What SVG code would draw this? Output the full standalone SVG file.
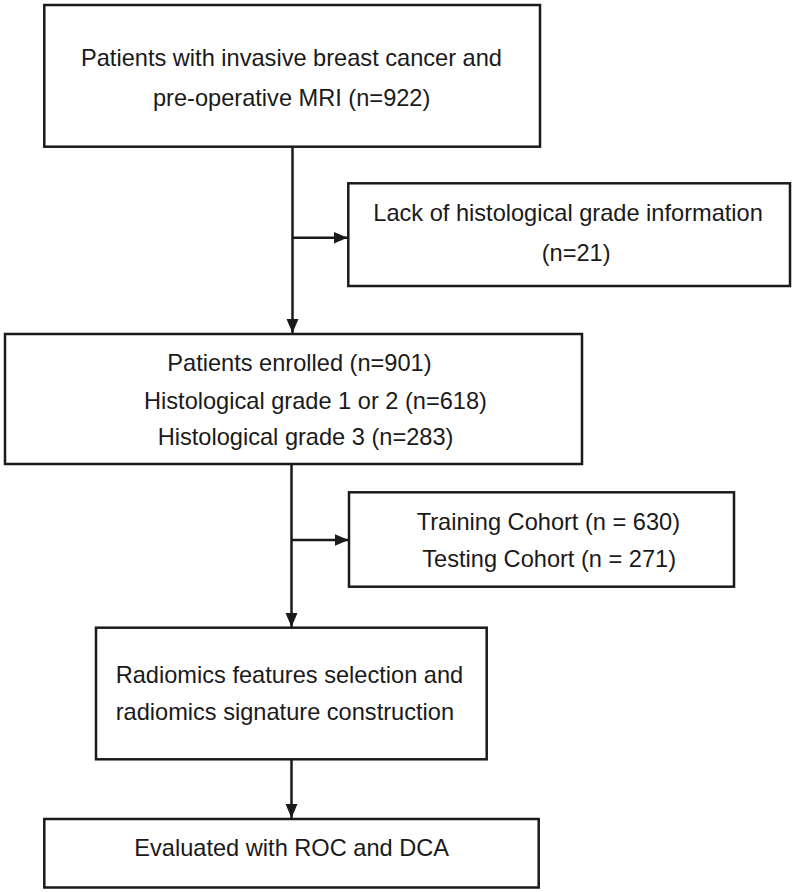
<svg xmlns="http://www.w3.org/2000/svg" width="800" height="892" viewBox="0 0 800 892">
  <defs>
    <style>
      .box { fill: #ffffff; stroke: #1a1a1a; stroke-width: 2.5; }
      .lbl { font-family: "Liberation Sans", Arial, sans-serif; font-size: 23.6px; fill: #1a1a1a; }
      .conn { stroke: #1a1a1a; stroke-width: 2.5; fill: none; marker-end: url(#arrow); }
    </style>
    <marker id="arrow" markerUnits="userSpaceOnUse" markerWidth="15" markerHeight="13" refX="14" refY="6.5" orient="auto">
      <path d="M0,0.5 L14,6.5 L0,12.5 z" fill="#1a1a1a"/>
    </marker>
  </defs>
  <rect width="800" height="892" fill="#ffffff"/>

  <g id="connectors">
    <line class="conn" x1="292.5" y1="147" x2="292.5" y2="333"/>
    <line class="conn" x1="292.5" y1="237.7" x2="347.5" y2="237.7"/>
    <line class="conn" x1="291.5" y1="464" x2="291.5" y2="627"/>
    <line class="conn" x1="291.5" y1="540" x2="348.5" y2="540"/>
    <line class="conn" x1="291.5" y1="759" x2="291.5" y2="818"/>
  </g>

  <g id="node-patients">
    <rect class="box" x="44.3" y="5" width="495.7" height="141.7"/>
    <text class="lbl" x="81" y="66">Patients with invasive breast cancer and</text>
    <text class="lbl" x="153" y="106">pre-operative MRI (n=922)</text>
  </g>

  <g id="node-lack">
    <rect class="box" x="348.3" y="183.3" width="441.7" height="102.7"/>
    <text class="lbl" x="373.3" y="221">Lack of histological grade information</text>
    <text class="lbl" x="541.7" y="260.7">(n=21)</text>
  </g>

  <g id="node-enrolled">
    <rect class="box" x="5" y="334" width="577" height="130"/>
    <text class="lbl" x="167.3" y="371">Patients enrolled (n=901)</text>
    <text class="lbl" x="144" y="408.7">Histological grade 1 or 2 (n=618)</text>
    <text class="lbl" x="157.7" y="445.3">Histological grade 3 (n=283)</text>
  </g>

  <g id="node-cohort">
    <rect class="box" x="349" y="492.3" width="385" height="94.4"/>
    <text class="lbl" x="416.7" y="530">Training Cohort (n = 630)</text>
    <text class="lbl" x="422.3" y="567.3">Testing Cohort (n = 271)</text>
  </g>

  <g id="node-radiomics">
    <rect class="box" x="96" y="627.7" width="390.7" height="131.6"/>
    <text class="lbl" x="115.7" y="682.7">Radiomics features selection and</text>
    <text class="lbl" x="115.7" y="720">radiomics signature construction</text>
  </g>

  <g id="node-evaluated">
    <rect class="box" x="44.3" y="819" width="494.4" height="68.5"/>
    <text class="lbl" x="134.3" y="856">Evaluated with ROC and DCA</text>
  </g>
</svg>
